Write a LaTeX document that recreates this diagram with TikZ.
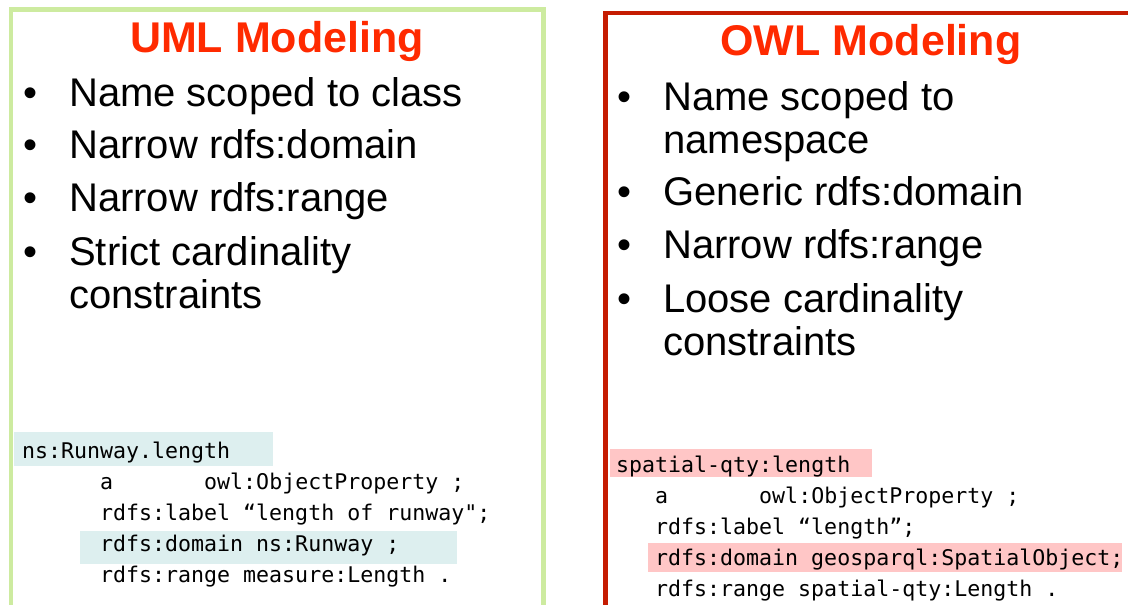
\documentclass[tikz,border=0pt]{standalone}
\usepackage{fontspec}
\setmainfont{Liberation Sans}
\newfontfamily\codefont{DejaVu Sans Mono}
\definecolor{boxgreen}{HTML}{CDEBA0}
\definecolor{boxred}{HTML}{C51C02}
\definecolor{titlered}{HTML}{FF2A00}
\definecolor{hlteal}{HTML}{DDEFEF}
\definecolor{hlpink}{HTML}{FFC6C6}
\tikzset{
  titletext/.style={anchor=base, inner sep=0pt, text=titlered, font=\fontsize{43}{48}\selectfont\bfseries},
  bullettext/.style={anchor=base west, inner sep=0pt, font=\fontsize{40}{44}\selectfont},
  bulletdot/.style={anchor=base west, inner sep=0pt, font=\fontsize{40}{44}\selectfont},
  codetext/.style={anchor=base west, inner sep=0pt, font=\codefont\fontsize{21.6}{24}\selectfont},
}
\begin{document}
\begin{tikzpicture}[x=1pt,y=-1pt]
\useasboundingbox (0,0) rectangle (1128,605);
\clip (0,0) rectangle (1128,605);
\fill[white] (0,0) rectangle (1128,605);
% frames
\draw[boxgreen, line width=4.5pt] (11,640) -- (11,9.5) -- (543.5,9.5) -- (543.5,640);
\draw[boxred, line width=4.5pt] (605.5,640) -- (605.5,13) -- (1140,13);
% highlights
\fill[hlteal] (14,432) rectangle (273,466);
\fill[hlteal] (80,531) rectangle (457,564);
\fill[hlpink] (610,449) rectangle (872,477);
\fill[hlpink] (648,543) rectangle (1122,572);
% titles
\node[titletext] (t1) at (277,52) {UML Modeling};
\node[titletext] (t2) at (871,55) {OWL Modeling};
% left bullets
\node[bulletdot] (lb1) at (23,106) {•};
\node[bullettext] (l1) at (69,106) {Name scoped to class};
\node[bulletdot] (lb2) at (23,158) {•};
\node[bullettext] (l2) at (69,158) {Narrow rdfs:domain};
\node[bulletdot] (lb3) at (23,211) {•};
\node[bullettext] (l3) at (69,211) {Narrow rdfs:range};
\node[bulletdot] (lb4) at (23,265) {•};
\node[bullettext] (l4) at (69,265) {Strict cardinality};
\node[bullettext] (l4b) at (69,308) {constraints};
% right bullets
\node[bulletdot] (rb1) at (617,110) {•};
\node[bullettext] (r1) at (663,110) {Name scoped to};
\node[bullettext] (r1b) at (663,153) {namespace};
\node[bulletdot] (rb2) at (617,205) {•};
\node[bullettext] (r2) at (663,205) {Generic rdfs:domain};
\node[bulletdot] (rb3) at (617,258) {•};
\node[bullettext] (r3) at (663,258) {Narrow rdfs:range};
\node[bulletdot] (rb4) at (617,312) {•};
\node[bullettext] (r4) at (663,312) {Loose cardinality};
\node[bullettext] (r4b) at (663,355) {constraints};
% left code
\node[codetext] (lc1) at (22,458) {ns:Runway.length};
\node[codetext] (lc2) at (100,489) {a\ \ \ \ \ \ \ owl:ObjectProperty ;};
\node[codetext] (lc3) at (100,520) {rdfs:label “length of runway";};
\node[codetext] (lc4) at (100,551) {rdfs:domain ns:Runway ;};
\node[codetext] (lc5) at (100,582) {rdfs:range measure:Length .};
% right code
\node[codetext] (rc1) at (616,472) {spatial-qty:length};
\node[codetext] (rc2) at (655,503) {a\ \ \ \ \ \ \ owl:ObjectProperty ;};
\node[codetext] (rc3) at (655,534) {rdfs:label “length”;};
\node[codetext] (rc4) at (655,565) {rdfs:domain geosparql:SpatialObject;};
\node[codetext] (rc5) at (655,596) {rdfs:range spatial-qty:Length .};
\end{tikzpicture}
\end{document}
